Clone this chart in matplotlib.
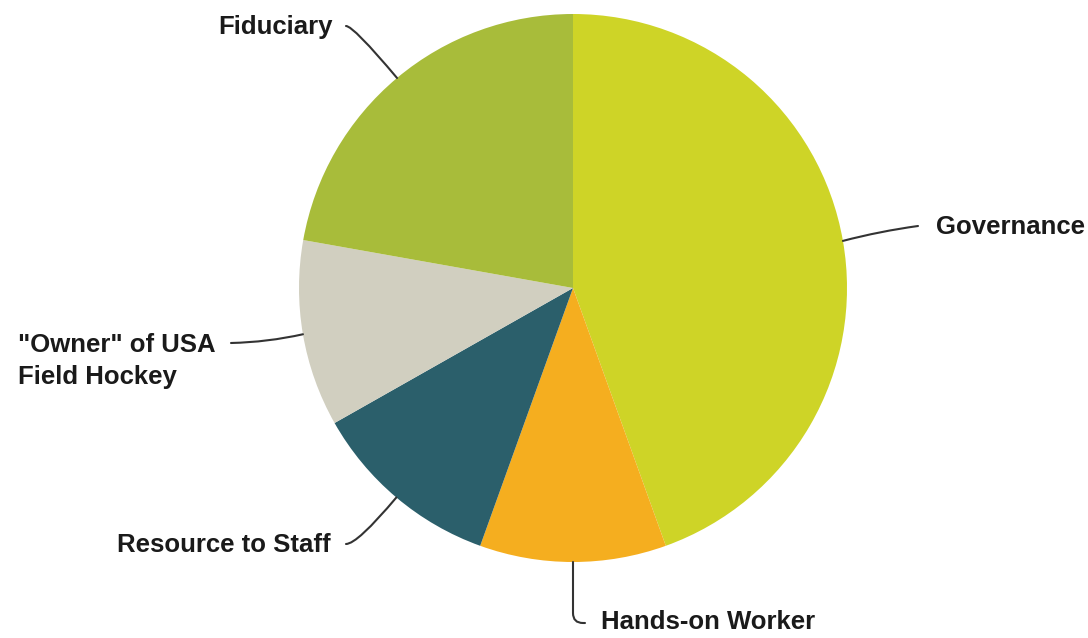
import numpy as np
import matplotlib.pyplot as plt

# slice order: clockwise from 12 o'clock
labels = ["Governance", "Hands-on Worker", "Resource to Staff",
          "\"Owner\" of USA\nField Hockey", "Fiduciary"]
values = [44.5, 11.0, 11.3, 11.0, 22.2]
colors = ["#CED427", "#F5AE1F", "#2B5F6B", "#D1CFC0", "#A8BC3A"]

W, H = 1088, 638
cx, cy, r = 573, H - 288, 274

fig = plt.figure(figsize=(W / 100, H / 100), dpi=100)
ax = fig.add_axes([0, 0, 1, 1])

wedges, _ = ax.pie(values, colors=colors, startangle=90, counterclock=False,
                   center=(cx, cy), radius=r, frame=True,
                   wedgeprops=dict(linewidth=0))
ax.set_xlim(0, W)
ax.set_ylim(0, H)
ax.set_aspect("equal")
ax.axis("off")

# label layout: (line start, text pos, ha, connection style)
layout = [
    ((918, H - 226), (936, H - 227), "left", "arc3,rad=0.03"),
    ((585, H - 623), (601, H - 622), "left", "angle,angleA=0,angleB=90,rad=10"),
    ((346, H - 544), (331, H - 545), "right", "angle3,angleA=0,angleB=50"),
    ((231, H - 343), (18, H - 361), "left", "arc3,rad=0.05"),
    ((346, H - 26), (333, H - 27), "right", "angle3,angleA=0,angleB=130"),
]

for w, lab, (start, tpos, ha, cs) in zip(wedges, labels, layout):
    mid = np.deg2rad((w.theta1 + w.theta2) / 2)
    edge = (cx + r * np.cos(mid), cy + r * np.sin(mid))
    ax.annotate("", xy=edge, xytext=start,
                arrowprops=dict(arrowstyle="-", color="#333333", lw=1.5,
                                connectionstyle=cs, shrinkA=0, shrinkB=0))
    ax.text(tpos[0], tpos[1], lab, ha=ha, va="center", fontsize=18.5,
            fontweight="bold", family="Liberation Sans", color="#1a1a1a",
            linespacing=1.4)

fig.savefig("out.png", dpi=100)
